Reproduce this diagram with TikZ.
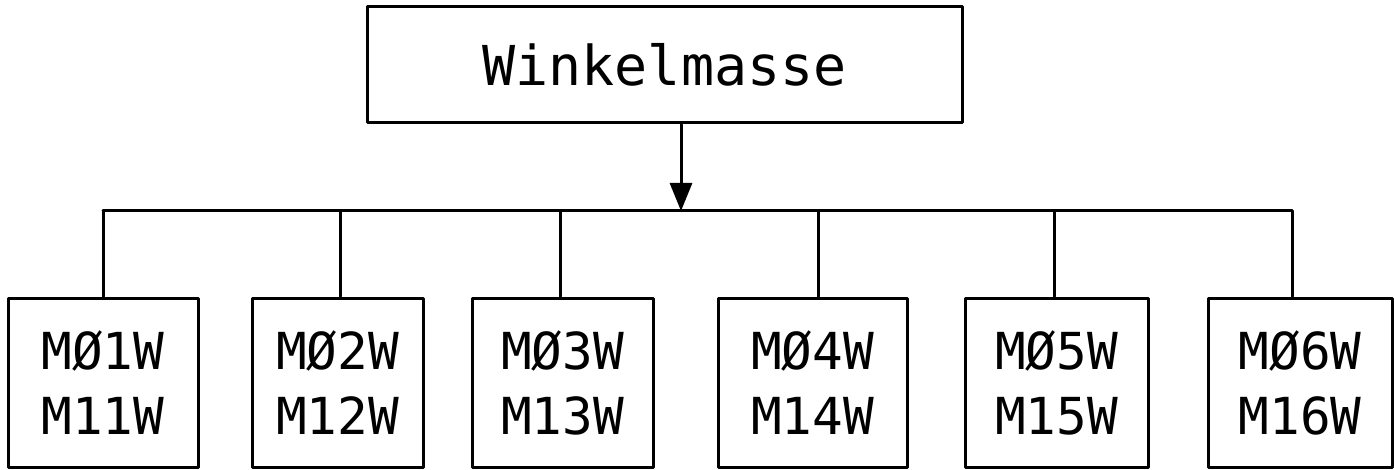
\documentclass[tikz,border=0pt]{standalone}
\usepackage{fontspec}
\setmonofont{DejaVu Sans Mono}
\usetikzlibrary{arrows.meta}
\tikzset{
  line/.style={line width=3pt, line cap=round, line join=round},
  topbox/.style={draw, line, rectangle, inner sep=0pt, minimum width=595pt, minimum height=116pt,
    font=\ttfamily\fontsize{55}{65}\selectfont},
  mbox/.style={draw, line, rectangle, inner sep=0pt, minimum height=169pt, align=center,
    font=\ttfamily\fontsize{51}{65}\selectfont},
}
\begin{document}
\begin{tikzpicture}[x=1pt,y=-1pt]
\useasboundingbox (0,0) rectangle (1394,470);
\node[topbox] (top) at (664.5,65) {\raisebox{-10pt}{Winkelmasse}};
\node[mbox, minimum width=190pt] (b1) at (103,382.5) {MØ1W\\M11W};
\node[mbox, minimum width=171pt] (b2) at (337.5,382.5) {MØ2W\\M12W};
\node[mbox, minimum width=181pt] (b3) at (562.5,382.5) {MØ3W\\M13W};
\node[mbox, minimum width=189pt] (b4) at (812.5,382.5) {MØ4W\\M14W};
\node[mbox, minimum width=183pt] (b5) at (1056.5,382.5) {MØ5W\\M15W};
\node[mbox, minimum width=184pt] (b6) at (1300,382.5) {MØ6W\\M16W};
\coordinate (bus) at (681,211);
\coordinate (j1) at (103,211);
\coordinate (j2) at (340,211);
\coordinate (j3) at (560,211);
\coordinate (j4) at (818,211);
\coordinate (j5) at (1054,211);
\coordinate (j6) at (1292,211);
\draw[line, -{Triangle[width=22pt,length=28pt]}] (top.south -| bus) -- (bus);
\draw[line] (j1) -- (j6);
\draw[line] (j1) -- (j1 |- b1.north);
\draw[line] (j2) -- (j2 |- b2.north);
\draw[line] (j3) -- (j3 |- b3.north);
\draw[line] (j4) -- (j4 |- b4.north);
\draw[line] (j5) -- (j5 |- b5.north);
\draw[line] (j6) -- (j6 |- b6.north);
\end{tikzpicture}
\end{document}
